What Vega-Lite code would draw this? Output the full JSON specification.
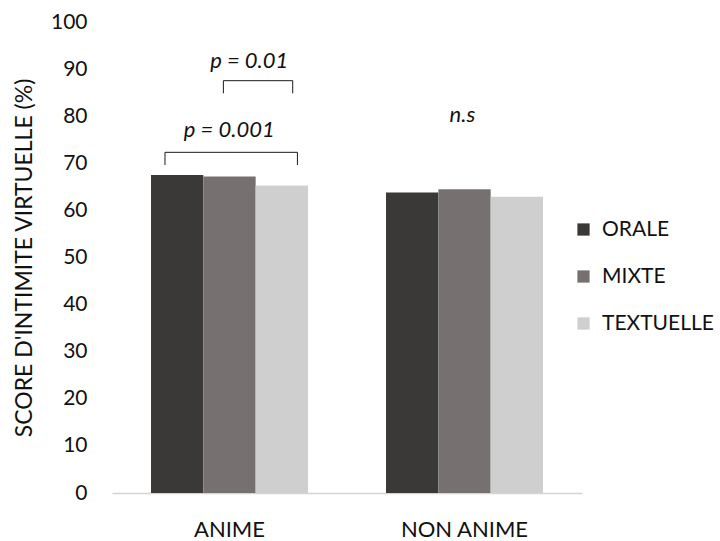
{
  "$schema": "https://vega.github.io/schema/vega-lite/v6.json",
  "autosize": {"type": "none"},
  "padding": {"left": 112, "top": 22, "right": 138, "bottom": 48},
  "width": 470,
  "height": 471,
  "background": "white",
  "config": {
    "view": {"stroke": null},
    "font": "Lato",
    "axis": {"labelFont": "Lato", "titleFont": "Lato"},
    "legend": {"labelFont": "Lato"}
  },
  "datasets": {
    "bars": [
      {"groupe": "ANIME", "type": "ORALE", "score": 67.5},
      {"groupe": "ANIME", "type": "MIXTE", "score": 67.2},
      {"groupe": "ANIME", "type": "TEXTUELLE", "score": 65.3},
      {"groupe": "NON ANIME", "type": "ORALE", "score": 63.8},
      {"groupe": "NON ANIME", "type": "MIXTE", "score": 64.5},
      {"groupe": "NON ANIME", "type": "TEXTUELLE", "score": 62.9}
    ],
    "brackets": [
      {"b": "p001", "o": 1, "px": 0.2255, "py": 69.64},
      {"b": "p001", "o": 2, "px": 0.2255, "py": 72.33},
      {"b": "p001", "o": 3, "px": 0.789, "py": 72.33},
      {"b": "p001", "o": 4, "px": 0.789, "py": 69.64},
      {"b": "p01", "o": 1, "px": 0.474, "py": 84.86},
      {"b": "p01", "o": 2, "px": 0.474, "py": 87.54},
      {"b": "p01", "o": 3, "px": 0.769, "py": 87.54},
      {"b": "p01", "o": 4, "px": 0.769, "py": 84.86}
    ],
    "labels": [
      {"t": "p = 0.01", "px": 0.584, "py": 90.2},
      {"t": "p = 0.001", "px": 0.499, "py": 75.6},
      {"t": "n.s", "px": 1.491, "py": 78.8}
    ]
  },
  "layer": [
    {
      "data": {"name": "bars"},
      "mark": {"type": "bar"},
      "encoding": {
        "x": {
          "field": "groupe", "type": "nominal",
          "sort": ["ANIME", "NON ANIME"],
          "scale": {"paddingInner": 0.332, "paddingOuter": 0.166},
          "axis": {
            "title": null, "labelAngle": 0, "ticks": false,
            "labelFontSize": 22, "labelColor": "#111111", "labelPadding": 26,
            "domainColor": "#d4d4d4", "domainWidth": 1.5, "labelBaseline": "top"
          }
        },
        "xOffset": {
          "field": "type", "type": "nominal",
          "sort": ["ORALE", "MIXTE", "TEXTUELLE"],
          "scale": {"paddingInner": 0, "paddingOuter": 0}
        },
        "y": {
          "field": "score", "type": "quantitative",
          "scale": {"domain": [0, 100], "nice": false},
          "axis": {
            "title": "SCORE D'INTIMITE VIRTUELLE (%)",
            "titleFontSize": 23, "titleFontWeight": "normal", "titleColor": "#111111",
            "titlePadding": 14,
            "values": [0, 10, 20, 30, 40, 50, 60, 70, 80, 90, 100],
            "labelFontSize": 21, "labelColor": "#111111", "labelPadding": 25,
            "ticks": false, "domain": false, "grid": false
          }
        },
        "color": {
          "field": "type", "type": "nominal",
          "scale": {"domain": ["ORALE", "MIXTE", "TEXTUELLE"], "range": ["#3b3937", "#767170", "#cfcfcf"]},
          "legend": {
            "title": null, "orient": "none", "legendX": 461, "legendY": 197,
            "symbolType": "square", "symbolSize": 150, "symbolStrokeWidth": 0,
            "labelFontSize": 21, "labelColor": "#111111", "labelOffset": 8,
            "rowPadding": 25, "padding": 0
          }
        }
      }
    },
    {
      "data": {"name": "brackets"},
      "mark": {"type": "line", "color": "#1a1a1a", "strokeWidth": 1},
      "encoding": {
        "x": {"field": "px", "type": "quantitative", "scale": {"domain": [0, 2], "nice": false, "zero": false}, "axis": null},
        "y": {"field": "py", "type": "quantitative"},
        "detail": {"field": "b"},
        "order": {"field": "o"}
      }
    },
    {
      "data": {"name": "labels"},
      "mark": {"type": "text", "fontStyle": "italic", "fontSize": 22, "color": "#111111", "baseline": "alphabetic", "align": "center"},
      "encoding": {
        "x": {"field": "px", "type": "quantitative", "scale": {"domain": [0, 2], "nice": false, "zero": false}, "axis": null},
        "y": {"field": "py", "type": "quantitative"},
        "text": {"field": "t"}
      }
    }
  ],
  "resolve": {"scale": {"x": "independent"}, "axis": {"x": "independent"}}
}
